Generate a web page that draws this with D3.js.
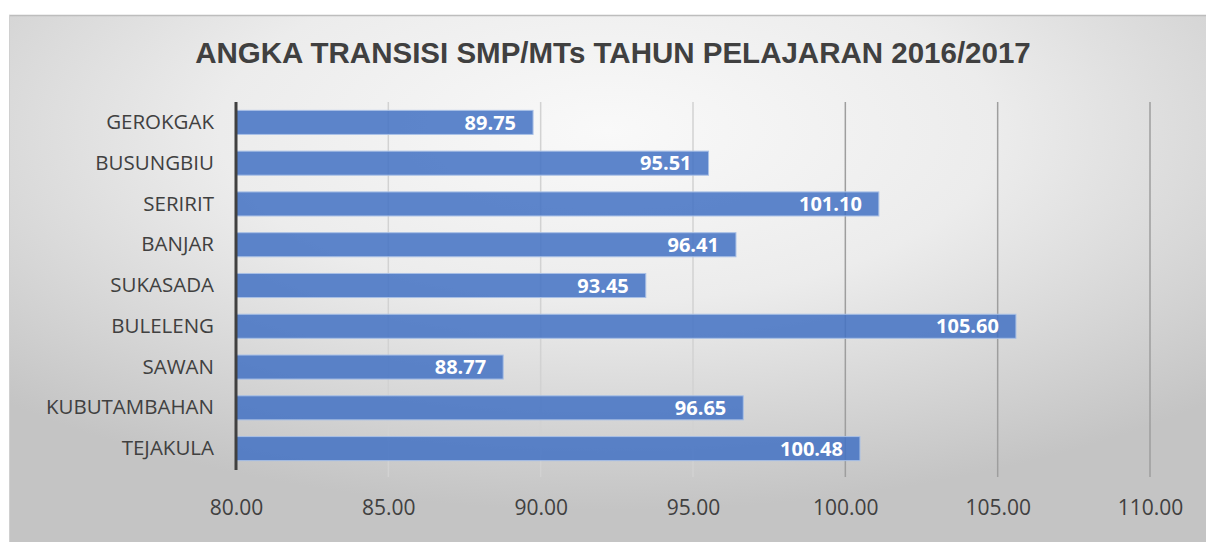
<!DOCTYPE html>
<html>
<head>
<meta charset="utf-8">
<script src="https://cdn.jsdelivr.net/npm/d3@7"></script>
<style>
  body { margin: 0; background: #fff; }
  #chart { width: 1206px; height: 542px; }
</style>
</head>
<body>
<div id="chart"></div>
<script>
var kecamatan = ["GEROKGAK", "BUSUNGBIU", "SERIRIT", "BANJAR", "SUKASADA", "BULELENG", "SAWAN", "KUBUTAMBAHAN", "TEJAKULA"];
var angkaTransisi = [89.75, 95.51, 101.10, 96.41, 93.45, 105.60, 88.77, 96.65, 100.48];
var xTicks = [80, 85, 90, 95, 100, 105, 110];

var svgWidth = 1206, svgHeight = 542;
var margin = { top: 102, right: 56, bottom: 73, left: 236 };
var width = svgWidth - margin.left - margin.right;
var height = svgHeight - margin.top - margin.bottom;

var data = kecamatan.map(function(k, i) { return { name: k, value: angkaTransisi[i] }; });

var svg = d3.select("#chart").append("svg")
  .attr("width", svgWidth)
  .attr("height", svgHeight);

// background gradient
var defs = svg.append("defs");
var grad = defs.append("radialGradient")
  .attr("id", "bg")
  .attr("cx", "50%").attr("cy", "22%").attr("r", "72%");
grad.append("stop").attr("offset", "0%").attr("stop-color", "#f9f9f9");
grad.append("stop").attr("offset", "45%").attr("stop-color", "#ececec");
grad.append("stop").attr("offset", "100%").attr("stop-color", "#c4c4c4");

svg.append("rect")
  .attr("x", 9).attr("y", 15)
  .attr("width", svgWidth - 9).attr("height", svgHeight - 15)
  .attr("fill", "url(#bg)");
svg.append("line")
  .attr("x1", 9).attr("x2", svgWidth).attr("y1", 15.5).attr("y2", 15.5)
  .attr("stroke", "#bdbdbd").attr("stroke-width", 1.5);
svg.append("line")
  .attr("x1", 9.5).attr("x2", 9.5).attr("y1", 15).attr("y2", svgHeight)
  .attr("stroke", "#d0d0d0").attr("stroke-width", 1);

// title
svg.append("text")
  .attr("x", 613).attr("y", 63)
  .attr("text-anchor", "middle")
  .attr("font-family", "Liberation Sans, Arial, sans-serif")
  .attr("font-weight", "bold")
  .attr("font-size", 29.5)
  .attr("fill", "#404040")
  .text("ANGKA TRANSISI SMP/MTs TAHUN PELAJARAN 2016/2017");

var chartGroup = svg.append("g")
  .attr("transform", `translate(${margin.left}, ${margin.top})`);

var xScale = d3.scaleLinear().domain([80, 110]).range([0, width]);
var yScale = d3.scaleBand().domain(kecamatan).range([0, height]).paddingInner(0.41).paddingOuter(0.205);

// gridlines
chartGroup.append("g")
  .selectAll("line")
  .data(xTicks.slice(1))
  .enter()
  .append("line")
  .attr("x1", d => xScale(d)).attr("x2", d => xScale(d))
  .attr("y1", 0).attr("y2", height + 8)
  .attr("stroke", d => d >= 100 ? "#9e9e9e" : "#d2d2d2")
  .attr("stroke-width", 1.5);

// x axis labels
var bottomAxis = d3.axisBottom(xScale).tickValues(xTicks).tickSize(0).tickPadding(31).tickFormat(d3.format(".2f"));
var xAxisG = chartGroup.append("g")
  .attr("transform", `translate(0, ${height})`)
  .call(bottomAxis);
xAxisG.select(".domain").remove();
xAxisG.selectAll("text")
  .attr("font-family", "Open Sans, Noto Sans, sans-serif")
  .attr("font-size", 21)
  .attr("fill", "#404040");

// bars
var barGroup = chartGroup.selectAll(".bar")
  .data(data)
  .enter()
  .append("g")
  .attr("class", "bar")
  .attr("transform", d => `translate(0, ${yScale(d.name)})`);

barGroup.append("rect")
  .attr("x", 0)
  .attr("y", 0)
  .attr("width", d => xScale(d.value))
  .attr("height", yScale.bandwidth())
  .attr("fill", "#4472c4")
  .attr("fill-opacity", 0.86)
  .attr("stroke", "#a9c0e6")
  .attr("stroke-width", 1);

barGroup.append("text")
  .attr("x", d => xScale(d.value) - 17)
  .attr("y", yScale.bandwidth() / 2)
  .attr("dy", "0.36em")
  .attr("text-anchor", "end")
  .attr("font-family", "Open Sans, Noto Sans, sans-serif")
  .attr("font-weight", "bold")
  .attr("font-size", 20)
  .attr("fill", "#ffffff")
  .text(d => d.value.toFixed(2));

// y axis
var leftAxis = d3.axisLeft(yScale).tickSize(0).tickPadding(22);
var yAxisG = chartGroup.append("g").call(leftAxis);
yAxisG.select(".domain")
  .attr("stroke", "#404040")
  .attr("stroke-width", 3)
  .attr("d", `M0,0V${height + 1}`);
yAxisG.selectAll("text")
  .attr("font-family", "Open Sans, Noto Sans, sans-serif")
  .attr("font-size", 20.5)
  .attr("fill", "#404040");
</script>
</body>
</html>
